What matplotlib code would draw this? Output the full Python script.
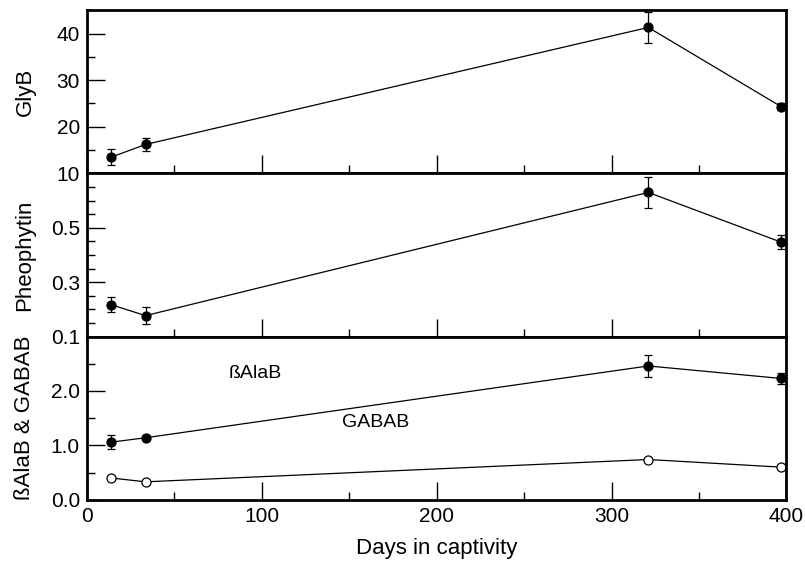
import matplotlib
matplotlib.use("Agg")
import matplotlib.pyplot as plt
from matplotlib.ticker import MultipleLocator, FixedLocator

plt.rcParams['font.family'] = ['Liberation Sans', 'DejaVu Sans']

# days in captivity
days = [14, 33.5, 321, 397]

glyb = [13.5, 16.2, 41.3, 24.3]
glyb_err = [1.7, 1.3, 3.3, 0.8]

pheo = [0.217, 0.177, 0.630, 0.447]
pheo_err = [0.028, 0.030, 0.057, 0.025]

bala = [1.06, 1.14, 2.46, 2.23]
bala_err = [0.13, 0.05, 0.20, 0.10]

gaba = [0.40, 0.33, 0.74, 0.60]
gaba_err = [0.04, 0.02, 0.03, 0.02]

fig, axes = plt.subplots(3, 1, figsize=(8.05, 5.66), dpi=100, sharex=True)
fig.subplots_adjust(left=0.108, right=0.977, top=0.982, bottom=0.117, hspace=0)
ax1, ax2, ax3 = axes

ebkw = dict(color='black', lw=0.9, capsize=3, elinewidth=0.9, capthick=0.9,
            marker='o', markersize=6.5, markeredgewidth=0.9, clip_on=False)

ax1.errorbar(days, glyb, yerr=glyb_err, mfc='black', mec='black', **ebkw)
ax2.errorbar(days, pheo, yerr=pheo_err, mfc='black', mec='black', **ebkw)
ax3.errorbar(days, bala, yerr=bala_err, mfc='black', mec='black', **ebkw)
ax3.errorbar(days, gaba, yerr=gaba_err, mfc='white', mec='black', **ebkw)

ax3.text(96, 2.33, 'ßAlaB', fontsize=14, ha='center', va='center')
ax3.text(165, 1.42, 'GABAB', fontsize=14, ha='center', va='center')

ax1.set_ylim(10, 45)
ax1.yaxis.set_major_locator(FixedLocator([10, 20, 30, 40]))
ax1.yaxis.set_minor_locator(FixedLocator([15, 25, 35]))
ax1.set_ylabel('GlyB')

ax2.set_ylim(0.1, 0.7)
ax2.yaxis.set_major_locator(FixedLocator([0.1, 0.3, 0.5]))
ax2.yaxis.set_minor_locator(FixedLocator([0.15, 0.2, 0.25, 0.35, 0.4, 0.45, 0.55, 0.6, 0.65]))
ax2.set_ylabel('Pheophytin')

ax3.set_ylim(0, 3)
ax3.yaxis.set_major_locator(FixedLocator([0.0, 1.0, 2.0]))
ax3.yaxis.set_minor_locator(FixedLocator([0.5, 1.5, 2.5]))
ax3.set_yticklabels(['0.0', '1.0', '2.0'])
ax3.set_ylabel('ßAlaB & GABAB')

ax3.set_xlim(0, 400)
ax3.xaxis.set_major_locator(MultipleLocator(100))
ax3.xaxis.set_minor_locator(MultipleLocator(50))
ax3.set_xlabel('Days in captivity', fontsize=16, labelpad=9)

for ax in axes:
    for s in ax.spines.values():
        s.set_linewidth(2)
    ax.tick_params(which='major', direction='in', length=13, width=1.0,
                   labelsize=15, top=False, right=False, pad=5)
    ax.tick_params(which='minor', direction='in', length=6, width=1.0,
                   top=False, right=False)
    ax.yaxis.label.set_size(16)
    ax.yaxis.labelpad = 11

fig.align_ylabels(axes)

fig.savefig('out.png', dpi=100)
